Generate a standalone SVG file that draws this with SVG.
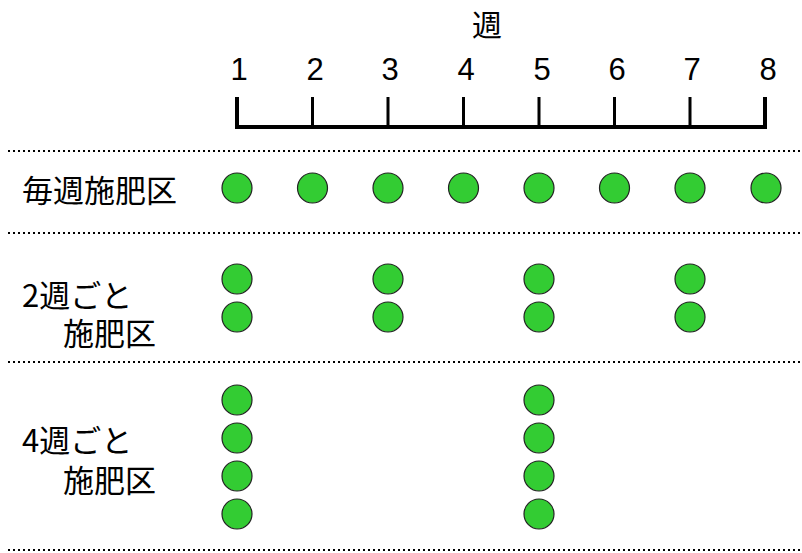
<svg xmlns="http://www.w3.org/2000/svg" width="802" height="553" viewBox="0 0 802 553">
<style>
.num{font-family:"Liberation Sans","Noto Sans CJK JP",sans-serif;font-size:31px;fill:#000;text-anchor:middle}
.lbl{font-family:"Noto Sans CJK JP",sans-serif;font-size:31px;fill:#000}
.dot{fill:#33cc33;stroke:#222;stroke-width:1.2}
.sep{stroke:#000;stroke-width:2.2;stroke-dasharray:2 3;fill:none}
.bar{stroke:#000;fill:none}
</style>
<rect width="802" height="553" fill="#fff"/>
<g id="axis">
<text class="lbl" x="487" y="36" text-anchor="middle" style="font-size:30px">週</text>
<text class="num" x="239" y="80">1</text>
<text class="num" x="315" y="80">2</text>
<text class="num" x="390" y="80">3</text>
<text class="num" x="466" y="80">4</text>
<text class="num" x="542" y="80">5</text>
<text class="num" x="617" y="80">6</text>
<text class="num" x="692" y="80">7</text>
<text class="num" x="768" y="80">8</text>
<path class="bar" stroke-width="4" d="M237 97V127H765V97"/>
<path class="bar" stroke-width="3" d="M312.5 97V127M388 97V127M463.5 97V127M539 97V127M614.5 97V127M690 97V127"/>
</g>
<g id="separators">
<line class="sep" x1="8" y1="151" x2="802" y2="151"/>
<line class="sep" x1="8" y1="233" x2="802" y2="233"/>
<line class="sep" x1="8" y1="362" x2="802" y2="362"/>
<line class="sep" x1="8" y1="550" x2="802" y2="550"/>
</g>
<g id="row-weekly">
<text class="lbl" x="22" y="202">毎週施肥区</text>
<circle class="dot" cx="237" cy="188" r="15"/>
<circle class="dot" cx="312.5" cy="188" r="15"/>
<circle class="dot" cx="388" cy="188" r="15"/>
<circle class="dot" cx="463.5" cy="188" r="15"/>
<circle class="dot" cx="539" cy="188" r="15"/>
<circle class="dot" cx="614.5" cy="188" r="15"/>
<circle class="dot" cx="690" cy="188" r="15"/>
<circle class="dot" cx="766" cy="188" r="15"/>
</g>
<g id="row-2weeks">
<text class="lbl" x="22" y="307">2週ごと</text>
<text class="lbl" x="63" y="345">施肥区</text>
<circle class="dot" cx="237" cy="279" r="15"/>
<circle class="dot" cx="237" cy="317" r="15"/>
<circle class="dot" cx="388" cy="279" r="15"/>
<circle class="dot" cx="388" cy="317" r="15"/>
<circle class="dot" cx="539" cy="279" r="15"/>
<circle class="dot" cx="539" cy="317" r="15"/>
<circle class="dot" cx="690" cy="279" r="15"/>
<circle class="dot" cx="690" cy="317" r="15"/>
</g>
<g id="row-4weeks">
<text class="lbl" x="22" y="452">4週ごと</text>
<text class="lbl" x="63" y="492">施肥区</text>
<circle class="dot" cx="237" cy="400" r="15"/>
<circle class="dot" cx="237" cy="438" r="15"/>
<circle class="dot" cx="237" cy="476" r="15"/>
<circle class="dot" cx="237" cy="514" r="15"/>
<circle class="dot" cx="539" cy="400" r="15"/>
<circle class="dot" cx="539" cy="438" r="15"/>
<circle class="dot" cx="539" cy="476" r="15"/>
<circle class="dot" cx="539" cy="514" r="15"/>
</g>
</svg>
